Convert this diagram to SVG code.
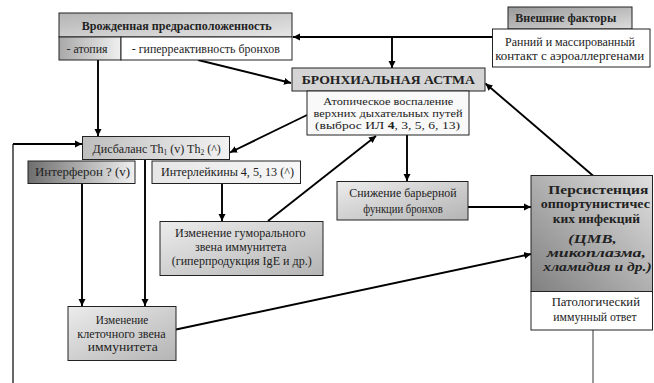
<svg xmlns="http://www.w3.org/2000/svg" width="654" height="383" viewBox="0 0 654 383" font-family="Liberation Serif">
<style>
text{font-family:"Liberation Serif","Times New Roman",serif;fill:#222;text-anchor:middle;font-size:12px}
.b{font-weight:bold}
.i{font-style:italic;font-weight:bold}
.s{font-size:11px}
.box{stroke:#222;stroke-width:1}
.ln{stroke:#000;stroke-width:1.9;fill:none}
</style>
<defs>
<marker id="ah" markerWidth="8" markerHeight="8" refX="7" refY="4" orient="auto" markerUnits="userSpaceOnUse">
<path d="M0,0.5 L7,4 L0,7.5 Z" fill="#000"/>
</marker>
<linearGradient id="gHead" x1="0" y1="0" x2="1" y2="1"><stop offset="0" stop-color="#b4b4b4"/><stop offset="1" stop-color="#e6e6e6"/></linearGradient>
<linearGradient id="gAtop" x1="0" y1="0" x2="1" y2="0"><stop offset="0" stop-color="#a8a8a8"/><stop offset="1" stop-color="#f0f0f0"/></linearGradient>
<linearGradient id="gExt" x1="0" y1="0" x2="1" y2="1"><stop offset="0" stop-color="#999"/><stop offset="1" stop-color="#dcdcdc"/></linearGradient>
<linearGradient id="gDis" x1="0" y1="0" x2="1" y2="0"><stop offset="0" stop-color="#bdbdbd"/><stop offset="1" stop-color="#f2f2f2"/></linearGradient>
<linearGradient id="gInt" x1="0" y1="0" x2="1" y2="0"><stop offset="0" stop-color="#6e6e6e"/><stop offset="1" stop-color="#f0f0f0"/></linearGradient>
<linearGradient id="gIl" x1="0" y1="0" x2="1" y2="0"><stop offset="0" stop-color="#e6e6e6"/><stop offset="1" stop-color="#f8f8f8"/></linearGradient>
<linearGradient id="gMid" x1="0" y1="0" x2="1" y2="1"><stop offset="0" stop-color="#ececec"/><stop offset="1" stop-color="#b4b4b4"/></linearGradient>
<linearGradient id="gPer" x1="1" y1="0" x2="0" y2="1"><stop offset="0" stop-color="#e0e0e0"/><stop offset="1" stop-color="#808080"/></linearGradient>
</defs>

<g id="connectors">
<path class="ln" d="M492,37 H293" marker-end="url(#ah)"/>
<path class="ln" d="M392,37 V68" marker-end="url(#ah)"/>
<path class="ln" d="M198,60 L291,83" marker-end="url(#ah)"/>
<path class="ln" d="M98,60 V136" marker-end="url(#ah)"/>
<path d="M13,383 V144" stroke="#000" stroke-width="1.2" fill="none"/>
<path class="ln" d="M13,144 H82" marker-end="url(#ah)"/>
<path class="ln" d="M307,115 L230,152.5" marker-end="url(#ah)"/>
<path class="ln" d="M82,183 V306" marker-end="url(#ah)"/>
<path class="ln" d="M145,159 V306" marker-end="url(#ah)"/>
<path class="ln" d="M222,183 V221" marker-end="url(#ah)"/>
<path class="ln" d="M268,221 L376,136" marker-end="url(#ah)"/>
<path class="ln" d="M407,135 V181" marker-end="url(#ah)"/>
<path class="ln" d="M468,207 H531" marker-end="url(#ah)"/>
<path class="ln" d="M176,329.5 L531,254" marker-end="url(#ah)"/>
<path class="ln" d="M594,176.5 L485.5,83.5" marker-end="url(#ah)"/>
<path d="M593,330 V383" stroke="#777" stroke-width="1.5" fill="none"/>
</g>

<g id="innate">
<rect class="box" x="59" y="13" width="233" height="24" fill="url(#gHead)"/>
<text class="b" x="176.7" y="29.5" textLength="190" lengthAdjust="spacingAndGlyphs">Врожденная предрасположенность</text>
<rect class="box" x="59" y="37" width="62" height="23" fill="url(#gAtop)"/>
<text x="87" y="52.5" textLength="41" lengthAdjust="spacingAndGlyphs">- атопия</text>
<rect class="box" x="121" y="37" width="171" height="23" fill="#fff"/>
<text x="205.8" y="52.5" textLength="148" lengthAdjust="spacingAndGlyphs">- гиперреактивность бронхов</text>
</g>

<g id="external">
<rect class="box" x="508" y="7" width="124" height="22" fill="url(#gExt)"/>
<text class="b" x="565.8" y="22" textLength="101" lengthAdjust="spacingAndGlyphs">Внешние факторы</text>
<rect class="box" x="492.5" y="29" width="157.5" height="38" fill="#fff"/>
<text x="570" y="45.5" textLength="130" lengthAdjust="spacingAndGlyphs">Ранний и массированный</text>
<text x="569.7" y="59.5" textLength="149" lengthAdjust="spacingAndGlyphs">контакт с аэроаллергенами</text>
</g>

<g id="asthma">
<rect class="box" x="292" y="68" width="193" height="23" fill="#d4d4d4"/>
<text class="b" x="388.3" y="84" font-size="13.6" textLength="173" lengthAdjust="spacingAndGlyphs">БРОНХИАЛЬНАЯ АСТМА</text>
<rect class="box" x="307" y="91" width="162" height="44" fill="#f9f9f9"/>
<text class="s" x="388.3" y="105" textLength="130" lengthAdjust="spacingAndGlyphs">Атопическое воспаление</text>
<text class="s" x="388" y="117" textLength="149" lengthAdjust="spacingAndGlyphs">верхних дыхательных  путей</text>
<text class="s" x="387.5" y="129" textLength="145" lengthAdjust="spacingAndGlyphs">(выброс ИЛ <tspan font-weight="bold">4</tspan>, 3, 5, 6, 13)</text>
</g>

<g id="disbalance">
<rect class="box" x="82.5" y="136.5" width="147" height="23" fill="url(#gDis)"/>
<text x="156.7" y="152.5">Дисбаланс Th<tspan font-size="7.5" dy="2">1</tspan><tspan dy="-2"> (v)  Th</tspan><tspan font-size="7.5" dy="2">2</tspan><tspan dy="-2"> (^)</tspan></text>
</g>

<g id="interferon">
<rect class="box" x="28" y="161" width="107" height="22.5" fill="url(#gInt)"/>
<text x="82.5" y="176" textLength="95" lengthAdjust="spacingAndGlyphs">Интерферон  ? (v)</text>
</g>

<g id="interleukins">
<rect class="box" x="152" y="161" width="148.5" height="22.5" fill="url(#gIl)"/>
<text x="227.5" y="176" textLength="133" lengthAdjust="spacingAndGlyphs">Интерлейкины 4, 5, 13 (^)</text>
</g>

<g id="humoral">
<rect class="box" x="160" y="221.5" width="163" height="54" fill="url(#gMid)"/>
<text x="240.3" y="237" textLength="130.7" lengthAdjust="spacingAndGlyphs">Изменение гуморального</text>
<text x="240.8" y="251" textLength="91.7" lengthAdjust="spacingAndGlyphs">звена иммунитета</text>
<text x="241.7" y="265" textLength="140" lengthAdjust="spacingAndGlyphs">(гиперпродукция  IgE и др.)</text>
</g>

<g id="barrier">
<rect class="box" x="337" y="181.5" width="131" height="38.5" fill="url(#gMid)"/>
<text x="403" y="196.5" textLength="107.3" lengthAdjust="spacingAndGlyphs">Снижение барьерной</text>
<text x="403" y="213" textLength="79.3" lengthAdjust="spacingAndGlyphs">функции бронхов</text>
</g>

<g id="cellular">
<rect class="box" x="68" y="306.5" width="108" height="54" fill="url(#gMid)"/>
<text x="122" y="324" textLength="52.7" lengthAdjust="spacingAndGlyphs">Изменение</text>
<text x="121.5" y="337.5" textLength="88.3" lengthAdjust="spacingAndGlyphs">клеточного звена</text>
<text x="122.7" y="350.5" textLength="70" lengthAdjust="spacingAndGlyphs">иммунитета</text>
</g>

<g id="persistence">
<rect class="box" x="531" y="175.5" width="121.5" height="116" fill="url(#gPer)"/>
<text class="b" x="598.3" y="194" font-size="14.5" textLength="100" lengthAdjust="spacingAndGlyphs">Персистенция</text>
<text class="b" x="595.3" y="207.5" font-size="14.5" textLength="109.3" lengthAdjust="spacingAndGlyphs">оппортунистичес</text>
<text class="b" x="596.3" y="222.5" font-size="14.5" textLength="87.3" lengthAdjust="spacingAndGlyphs">ких инфекций</text>
<text class="i" x="592.5" y="243" font-size="16.5" textLength="48.3" lengthAdjust="spacingAndGlyphs">(ЦМВ,</text>
<text class="i" x="596.3" y="256.5" font-size="14.5" textLength="99.3" lengthAdjust="spacingAndGlyphs">микоплазма,</text>
<text class="i" x="597.5" y="271" font-size="14.5" textLength="108.3" lengthAdjust="spacingAndGlyphs">хламидия и др.)</text>
<rect class="box" x="531" y="291.5" width="121.5" height="38.5" fill="#fff"/>
<text x="595.8" y="305.5" textLength="88.3" lengthAdjust="spacingAndGlyphs">Патологический</text>
<text x="595" y="320.5" textLength="83.3" lengthAdjust="spacingAndGlyphs">иммунный ответ</text>
</g>
</svg>
